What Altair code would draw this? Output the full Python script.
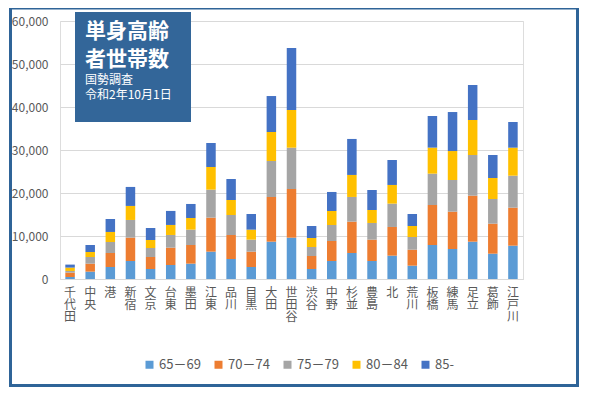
import altair as alt
import pandas as pd

wards = ["千代田", "中央", "港", "新宿", "文京", "台東", "墨田", "江東", "品川", "目黒", "大田",
         "世田谷", "渋谷", "中野", "杉並", "豊島", "北", "荒川", "板橋", "練馬", "足立", "葛飾", "江戸川"]
groups = ["65－69", "70－74", "75－79", "80－84", "85-"]
colors = ["#5B9BD5", "#ED7D31", "#A5A5A5", "#FFC000", "#4472C4"]

age_65_69 = [470, 1710, 2790, 4190, 2330, 3260, 3570, 6360, 4650, 2790, 8680,
             9610, 2330, 4190, 6050, 4190, 5430, 3100, 7910, 6980, 8680, 5890, 7750]
age_70_74 = [1010, 1860, 3260, 5430, 2790, 4030, 4340, 7910, 5580, 3570, 10390,
             11320, 3020, 4650, 7290, 4960, 6670, 3720, 9300, 8680, 10700, 6980, 8840]
age_75_79 = [390, 1550, 2560, 4110, 2090, 2950, 3570, 6510, 4650, 2790, 8370,
             9610, 2090, 3720, 5740, 3880, 5430, 2950, 7290, 7360, 9460, 5740, 7440]
age_80_84 = [780, 1160, 2330, 3260, 1860, 2330, 2710, 5270, 3490, 2330, 6740,
             8760, 2090, 3260, 5120, 3020, 4340, 2560, 6050, 6740, 8140, 4880, 6510]
age_85 = [700, 1630, 3020, 4420, 2790, 3260, 3260, 5580, 4880, 3640, 8370,
          14420, 2790, 4420, 8370, 4650, 5810, 2790, 7360, 9070, 8140, 5350, 5970]

series = [age_65_69, age_70_74, age_75_79, age_80_84, age_85]
rows = []
for gi, (g, vals) in enumerate(zip(groups, series)):
    for w, v in zip(wards, vals):
        rows.append({"ward": w, "group": g, "order": gi, "value": v})
df = pd.DataFrame(rows)

FONT = "Noto Sans CJK JP"
GRAY = "#595959"
FRAME = "#2F6498"

bars = alt.Chart(df).mark_bar(size=9.5).encode(
    x=alt.X("ward:N", sort=wards, title=None,
            scale=alt.Scale(paddingInner=0, paddingOuter=0),
            axis=alt.Axis(labelAngle=0, labelExpr="split(datum.label, '')",
                          labelBaseline="top", labelLineHeight=12.3, labelPadding=8,
                          labelFontSize=12, labelColor=GRAY, labelFont=FONT,
                          ticks=False, domainColor="#D9D9D9", grid=False)),
    y=alt.Y("value:Q", title=None, stack="zero",
            scale=alt.Scale(domain=[0, 60000]),
            axis=alt.Axis(values=[0, 10000, 20000, 30000, 40000, 50000, 60000],
                          format=",d", labelFontSize=12, labelColor=GRAY, labelFont=FONT,
                          ticks=False, domain=False, gridColor="#D9D9D9", labelPadding=12)),
    color=alt.Color("group:N", sort=groups,
                    scale=alt.Scale(domain=groups, range=colors),
                    legend=alt.Legend(title=None, orient="none", legendX=83, legendY=337,
                                      direction="horizontal", symbolType="square",
                                      symbolSize=64, symbolStrokeWidth=0,
                                      labelFontSize=13, labelColor=GRAY, labelFont=FONT,
                                      columnPadding=11, labelOffset=3)),
    order=alt.Order("order:Q", sort="ascending"),
)

one = pd.DataFrame({"a": [0]})

frame = alt.Chart(one).mark_rect(fill=None, stroke=FRAME, strokeWidth=3).encode(
    x=alt.value(-49.5), x2=alt.value(517.5), y=alt.value(-13), y2=alt.value(364.5))

box = alt.Chart(one).mark_rect(color="#336699").encode(
    x=alt.value(15), x2=alt.value(131), y=alt.value(-9), y2=alt.value(101))

title_lines = pd.DataFrame({"t": ["単身高齢", "者世帯数"], "yy": [17, 45]})
title = alt.Chart(title_lines).mark_text(
    font=FONT, fontSize=21, fontWeight="bold", color="white", align="left", baseline="alphabetic"
).encode(text="t:N", x=alt.value(25), y=alt.Y("yy:Q", scale=None))

sub_lines = pd.DataFrame({"t": ["国勢調査", "令和2年10月1日"], "yy": [63, 78]})
sub = alt.Chart(sub_lines).mark_text(
    font=FONT, fontSize=12, color="white", align="left", baseline="alphabetic"
).encode(text="t:N", x=alt.value(25), y=alt.Y("yy:Q", scale=None))

chart = alt.layer(frame, bars, box, title, sub).properties(
    width=463, height=258,
    padding={"left": 52, "top": 13, "right": 66, "bottom": 109},
    autosize=alt.AutoSizeParams(type="none"),
).configure_view(stroke=None).configure(font=FONT)

chart.save("out.html", embed_options={"renderer": "svg", "actions": False})
